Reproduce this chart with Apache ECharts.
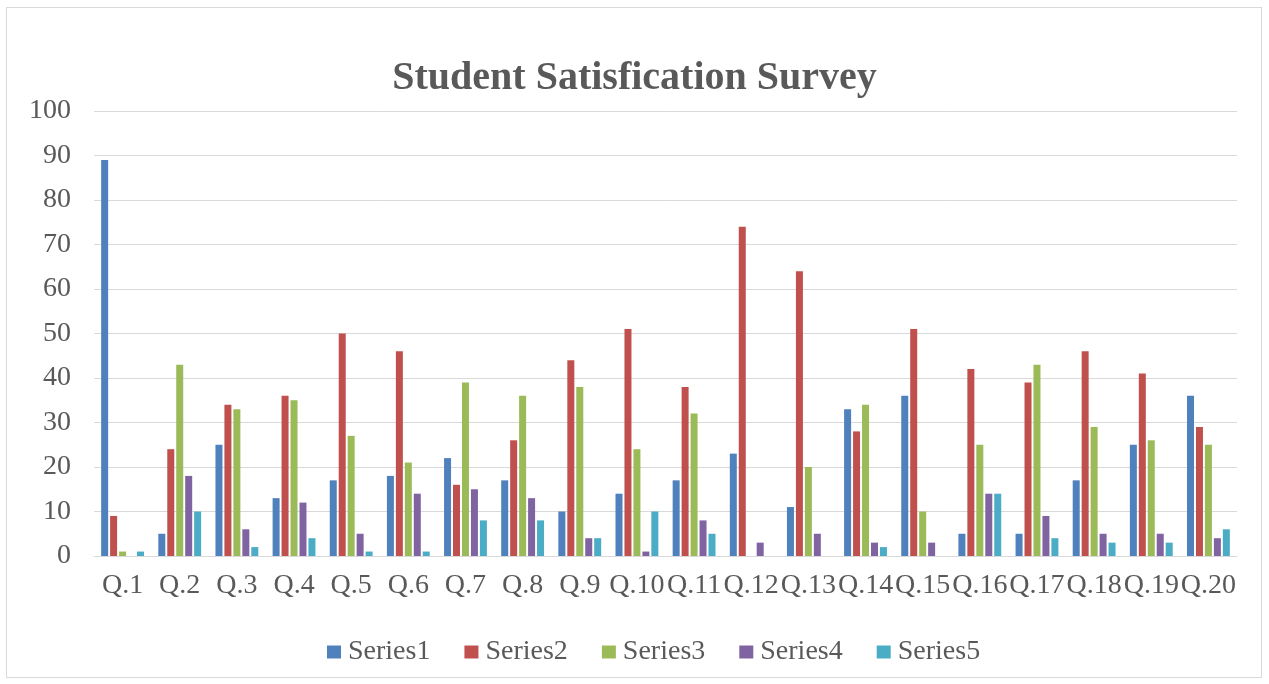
<!DOCTYPE html>
<html><head><meta charset="utf-8">
<script src="https://cdn.jsdelivr.net/npm/echarts@6/dist/echarts.min.js"></script>
<style>
html,body{margin:0;padding:0;background:#fff;}
#frame{position:absolute;left:6px;top:7px;width:1256px;height:671px;border:1px solid #d9d9d9;box-sizing:border-box;}
#c{position:absolute;left:0;top:0;width:1269px;height:684px;}
</style></head>
<body><div id="frame"></div><div id="c"></div>
<script>
const categories = ["Q.1","Q.2","Q.3","Q.4","Q.5","Q.6","Q.7","Q.8","Q.9","Q.10","Q.11","Q.12","Q.13","Q.14","Q.15","Q.16","Q.17","Q.18","Q.19","Q.20"];
const series1 = [89,5,25,13,17,18,22,17,10,14,17,23,11,33,36,5,5,17,25,36];
const series2 = [9,24,34,36,50,46,16,26,44,51,38,74,64,28,51,42,39,46,41,29];
const series3 = [1,43,33,35,27,21,39,36,38,24,32,0,20,34,10,25,43,29,26,25];
const series4 = [0,18,6,12,5,14,15,13,4,1,8,3,5,3,3,14,9,5,5,4];
const series5 = [1,10,2,4,1,1,8,8,4,10,5,0,0,2,0,14,4,3,3,6];
const seriesNames = ["Series1","Series2","Series3","Series4","Series5"];
const colors = ["#4F81BD","#C0504D","#9BBB59","#8064A2","#4BACC6"];
const allData = [series1,series2,series3,series4,series5];

const chart = echarts.init(document.getElementById('c'));
const font = '"Liberation Serif","Times New Roman",serif';
chart.setOption({
  animation:false,
  color: colors,
  title:{text:"Student Satisfication Survey",left:'center',top:54,
    textStyle:{fontFamily:font,fontSize:40,fontWeight:'bold',color:'#595959'}},
  legend:{top:633,left:322,itemWidth:14,itemHeight:13,itemGap:34,icon:'rect',
    textStyle:{fontFamily:font,fontSize:28,color:'#595959',padding:[0,0,0,2]},
    data:seriesNames},
  grid:{left:94,right:32,top:111,bottom:128,containLabel:false},
  xAxis:{type:'category',data:categories,
    axisLine:{lineStyle:{color:'#d9d9d9'}},axisTick:{show:false},
    axisLabel:{fontFamily:font,fontSize:28,color:'#595959',margin:16,interval:0}},
  yAxis:{type:'value',min:0,max:100,interval:10,
    axisLine:{show:false},axisTick:{show:false},
    splitLine:{lineStyle:{color:'#d9d9d9'}},
    axisLabel:{fontFamily:font,fontSize:28,color:'#595959',margin:23}},
  series: allData.map((d,i)=>({name:seriesNames[i],type:'bar',data:d,
    barWidth:7,barGap:'28%',barCategoryGap:'25%'}))
});
</script></body></html>
